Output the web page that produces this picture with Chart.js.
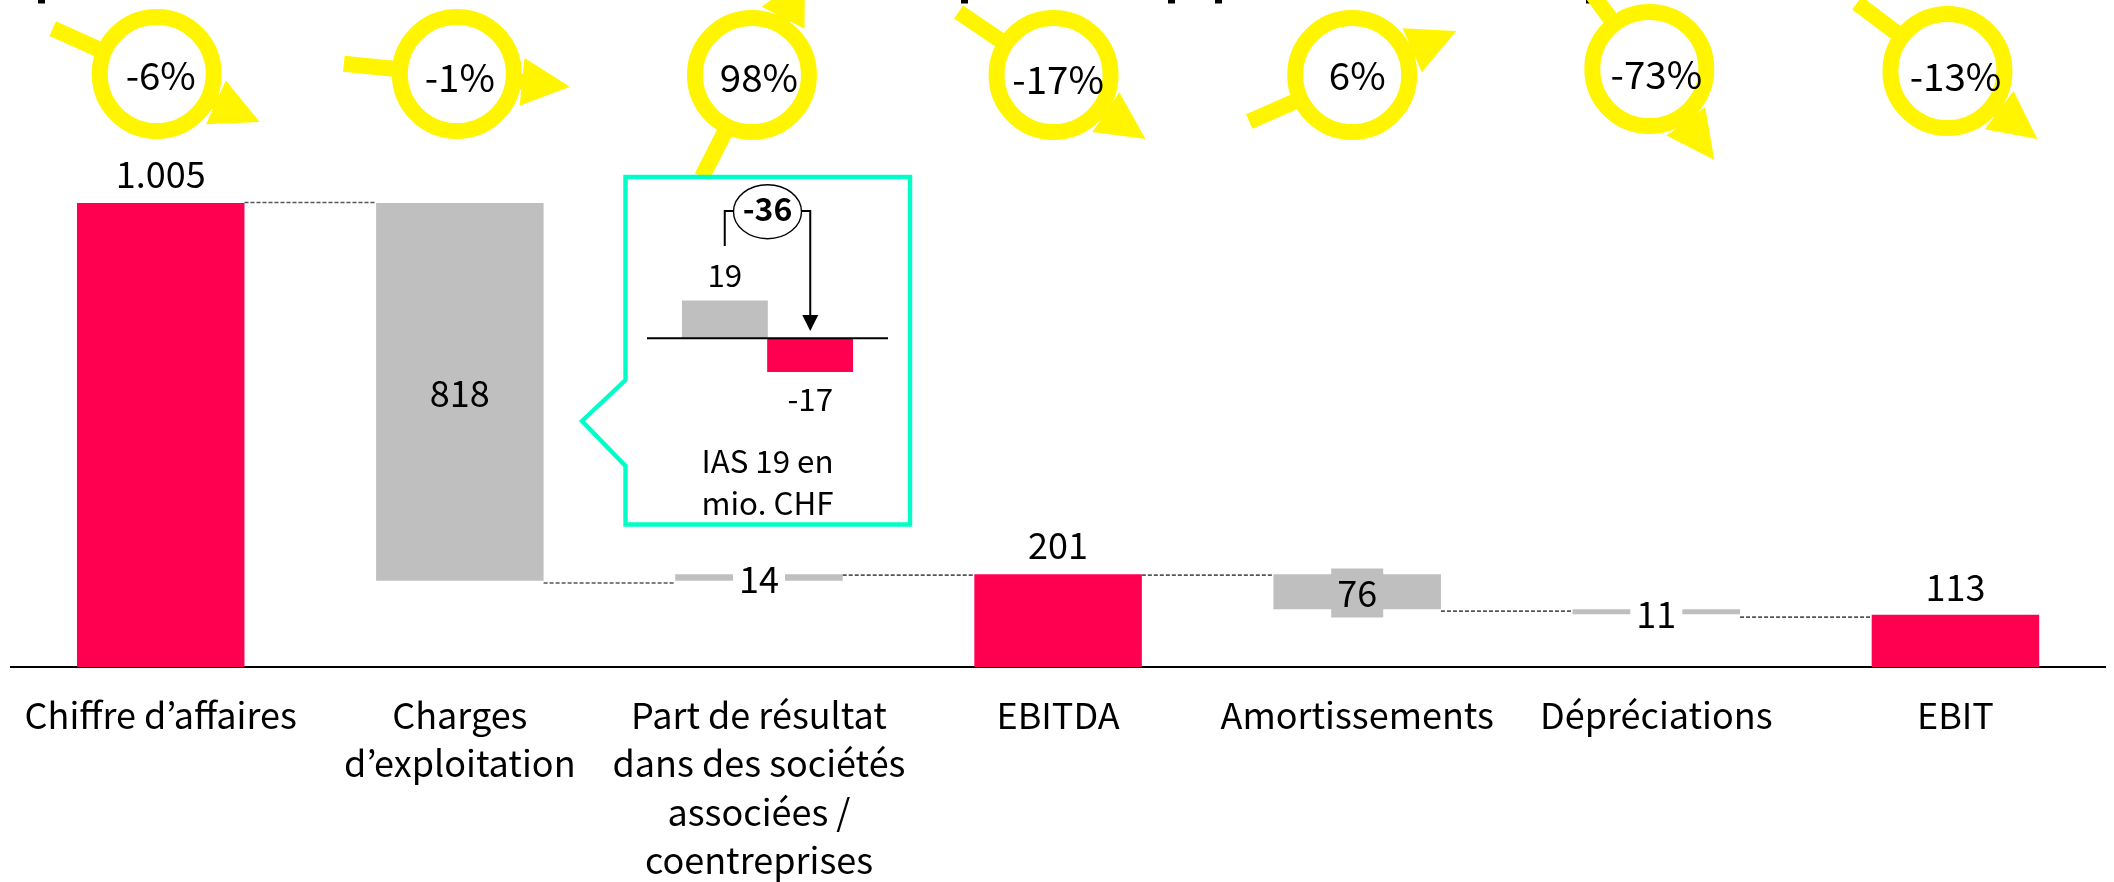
<!DOCTYPE html>
<html>
<head>
<meta charset="utf-8">
<style>
  html, body { margin: 0; padding: 0; background: #fff; }
  #wrap { position: relative; width: 2114px; height: 882px; overflow: hidden; }
  #bridge { position: absolute; left: 0; top: 0; }
  #inset { position: absolute; left: 560px; top: 160px; }
</style>
<script src="https://cdn.jsdelivr.net/npm/chart.js@4"></script>
</head>
<body>
<div id="wrap">
  <canvas id="bridge" width="2114" height="882"></canvas>
  <canvas id="inset" width="380" height="380"></canvas>
</div>
<script>
// data (mio. CHF)
const categories = [
  'Chiffre d’affaires',
  ['Charges', 'd’exploitation'],
  ['Part de résultat', 'dans des sociétés', 'associées /', 'coentreprises'],
  'EBITDA',
  'Amortissements',
  'Dépréciations',
  'EBIT'
];
const barLow = [0, 187, 187, 0, 125, 114, 0];
const barHigh = [1005, 1005, 201, 201, 201, 125, 113];
const valueLabels = ['1.005', '818', '14', '201', '76', '11', '113'];
const changeLabels = ['-6%', '-1%', '98%', '-17%', '6%', '-73%', '-13%'];
const connectorLevels = [1006, 182, 199, 199, 121, 108];
const insetCategories = ['avant', 'après'];
const insetValues = [19, -17];
const insetLabels = ['19', '-17'];
const insetDelta = '-36';
const insetNote = ['IAS 19 en', 'mio. CHF'];

const RED = '#ff0050';
const GREY = '#bfbfbf';
const YELLOW = '#fff500';
const CYAN = '#00ffc8';
// the KR cut keeps the apostrophe proportional
const FONT = '"Noto Sans CJK KR", "Noto Sans", sans-serif';
const barKinds = [RED, GREY, GREY, RED, GREY, GREY, RED];

// badge + arrow placement, x given relative to the category centre
const badges = [
  { cx: -4, cy: 74, tx: -108, ty: 28.6, hx: 99, hy: 122, textY: 75 },
  { cx: -3, cy: 74, tx: -116, ty: 63.7, hx: 110, hy: 86.7, textY: 77 },
  { cx: -7, cy: 75, tx: -57, ty: 177, hx: 46, hy: -25, textY: 77 },
  { cx: -4.5, cy: 75, tx: -99.5, ty: 12, hx: 87.5, hy: 139, textY: 79 },
  { cx: -5, cy: 75, tx: -108, ty: 121.5, hx: 99, hy: 31, textY: 75 },
  { cx: -7, cy: 69, tx: -64, ty: -6, hx: 58, hy: 160, textY: 74 },
  { cx: -8, cy: 71, tx: -98.5, ty: 3, hx: 82, hy: 139, textY: 76 }
];
// label placement for each bar: y pixel, and the small box behind it on thin bars
const labelY = [174, 393, 579, 545, 593, 614, 587];
const labelBox = [null, null, '#fff', null, GREY, '#fff', null];
// what is left of the cropped headline at the very top edge
const headlineStubs = [38, 961, 1168, 1215, 1586];

function drawArrow(ctx, x0, y0, x1, y1) {
  var a = Math.atan2(y1 - y0, x1 - x0);
  var len = Math.hypot(x1 - x0, y1 - y0);
  ctx.save();
  ctx.translate(x0, y0);
  ctx.rotate(a);
  ctx.fillStyle = YELLOW;
  ctx.fillRect(0, -8, len - 46, 16);
  ctx.beginPath();
  ctx.moveTo(len, 0);
  ctx.lineTo(len - 48, -24);
  ctx.lineTo(len - 48, 24);
  ctx.closePath();
  ctx.fill();
  ctx.restore();
}

const waterfallExtras = {
  id: 'waterfallExtras',
  afterDatasetsDraw(chart) {
    var ctx = chart.ctx;
    var x = chart.scales.x;
    var y = chart.scales.y;
    var bars = chart.getDatasetMeta(0).data;

    // dashed links between the bars
    ctx.save();
    ctx.strokeStyle = '#555';
    ctx.lineWidth = 1.6;
    ctx.setLineDash([4, 2]);
    connectorLevels.forEach(function (lvl, i) {
      var yy = y.getPixelForValue(lvl);
      ctx.beginPath();
      ctx.moveTo(bars[i].x + bars[i].width / 2, yy);
      ctx.lineTo(bars[i + 1].x - bars[i + 1].width / 2, yy);
      ctx.stroke();
    });
    ctx.restore();

    ctx.fillStyle = '#000';
    headlineStubs.forEach(function (sx) {
      ctx.fillRect(sx, 0, 7, 3.5);
    });

    ctx.textAlign = 'center';
    ctx.textBaseline = 'middle';
    ctx.font = '36px ' + FONT;

    // value labels
    valueLabels.forEach(function (txt, i) {
      var cx = x.getPixelForValue(i);
      if (labelBox[i]) {
        ctx.fillStyle = labelBox[i];
        ctx.fillRect(cx - 26, labelY[i] - 24.5, 52, 49);
      }
      ctx.fillStyle = '#000';
      ctx.fillText(txt, cx, labelY[i]);
    });

    // yellow trend badges
    ctx.font = '38.5px ' + FONT;
    changeLabels.forEach(function (txt, i) {
      var c = x.getPixelForValue(i);
      var b = badges[i];
      drawArrow(ctx, c + b.tx, b.ty, c + b.hx, b.hy);
      ctx.beginPath();
      ctx.arc(c + b.cx, b.cy, 57, 0, Math.PI * 2);
      ctx.fillStyle = '#fff';
      ctx.fill();
      ctx.lineWidth = 16;
      ctx.strokeStyle = YELLOW;
      ctx.stroke();
      ctx.fillStyle = '#000';
      ctx.fillText(txt, c, b.textY);
    });
  }
};

new Chart(document.getElementById('bridge'), {
  type: 'bar',
  data: {
    labels: categories,
    datasets: [{
      data: barLow.map(function (v, i) { return [v, barHigh[i]]; }),
      backgroundColor: barKinds,
      borderWidth: 0,
      barPercentage: 0.56,
      categoryPercentage: 1
    }]
  },
  options: {
    responsive: false,
    animation: false,
    devicePixelRatio: 1,
    layout: { padding: { left: 8, right: 9, top: 0, bottom: 0 } },
    plugins: { legend: { display: false }, tooltip: { enabled: false } },
    scales: {
      x: {
        grid: { display: false, drawTicks: false },
        border: { color: '#000', width: 2 },
        afterFit(scale) { scale.height = 215; },
        ticks: {
          color: '#000',
          padding: 24,
          maxRotation: 0,
          autoSkip: false,
          font: { family: FONT, size: 36, lineHeight: 1.347 }
        }
      },
      y: { display: false, min: 0, max: 1444.6 }
    }
  },
  plugins: [waterfallExtras]
});

// callout with the small IAS 19 chart
const calloutExtras = {
  id: 'calloutExtras',
  afterDatasetsDraw(chart) {
    var ctx = chart.ctx;
    var x = chart.scales.x;
    var y = chart.scales.y;
    var zero = y.getPixelForValue(0);
    var x0 = x.getPixelForValue(0);
    var x1 = x.getPixelForValue(1);

    ctx.save();
    // frame with its notch
    ctx.strokeStyle = CYAN;
    ctx.lineWidth = 4.4;
    ctx.beginPath();
    ctx.moveTo(65.5, 17);
    ctx.lineTo(350, 17);
    ctx.lineTo(350, 364.5);
    ctx.lineTo(65.5, 364.5);
    ctx.lineTo(65.5, 306);
    ctx.lineTo(22, 261);
    ctx.lineTo(65.5, 220);
    ctx.closePath();
    ctx.stroke();

    // baseline
    ctx.strokeStyle = '#000';
    ctx.lineWidth = 2;
    ctx.beginPath();
    ctx.moveTo(87, zero);
    ctx.lineTo(328, zero);
    ctx.stroke();

    // bracket and arrow
    var mid = (x0 + x1) / 2;
    ctx.beginPath();
    ctx.moveTo(x0, 86);
    ctx.lineTo(x0, 51);
    ctx.lineTo(mid - 34, 51);
    ctx.moveTo(mid + 34, 51);
    ctx.lineTo(x1, 51);
    ctx.lineTo(x1, 156);
    ctx.stroke();
    ctx.fillStyle = '#000';
    ctx.beginPath();
    ctx.moveTo(x1, 171);
    ctx.lineTo(x1 - 8, 155);
    ctx.lineTo(x1 + 8, 155);
    ctx.closePath();
    ctx.fill();

    // delta bubble
    ctx.lineWidth = 1.4;
    ctx.beginPath();
    ctx.ellipse(mid, 51.7, 34, 27, 0, 0, Math.PI * 2);
    ctx.fillStyle = '#fff';
    ctx.fill();
    ctx.stroke();

    ctx.fillStyle = '#000';
    ctx.textAlign = 'center';
    ctx.textBaseline = 'middle';
    ctx.font = 'bold 32px ' + FONT;
    ctx.fillText(insetDelta, mid, 49);
    ctx.font = '31.3px ' + FONT;
    ctx.fillText(insetLabels[0], x0, 115);
    ctx.fillText(insetLabels[1], x1, 239);
    insetNote.forEach(function (line, i) {
      ctx.fillText(line, mid, 301 + i * 42);
    });
    ctx.restore();
  }
};

new Chart(document.getElementById('inset'), {
  type: 'bar',
  data: {
    labels: insetCategories,
    datasets: [{
      data: insetValues,
      backgroundColor: [GREY, RED],
      borderWidth: 0,
      barPercentage: 1,
      categoryPercentage: 1
    }]
  },
  options: {
    responsive: false,
    animation: false,
    devicePixelRatio: 1,
    layout: { padding: { left: 122, right: 87, top: 0, bottom: 0 } },
    plugins: { legend: { display: false }, tooltip: { enabled: false } },
    scales: {
      x: { display: false },
      y: { display: false, min: -102.4, max: 90.5 }
    }
  },
  plugins: [calloutExtras]
});
</script>
</body>
</html>
